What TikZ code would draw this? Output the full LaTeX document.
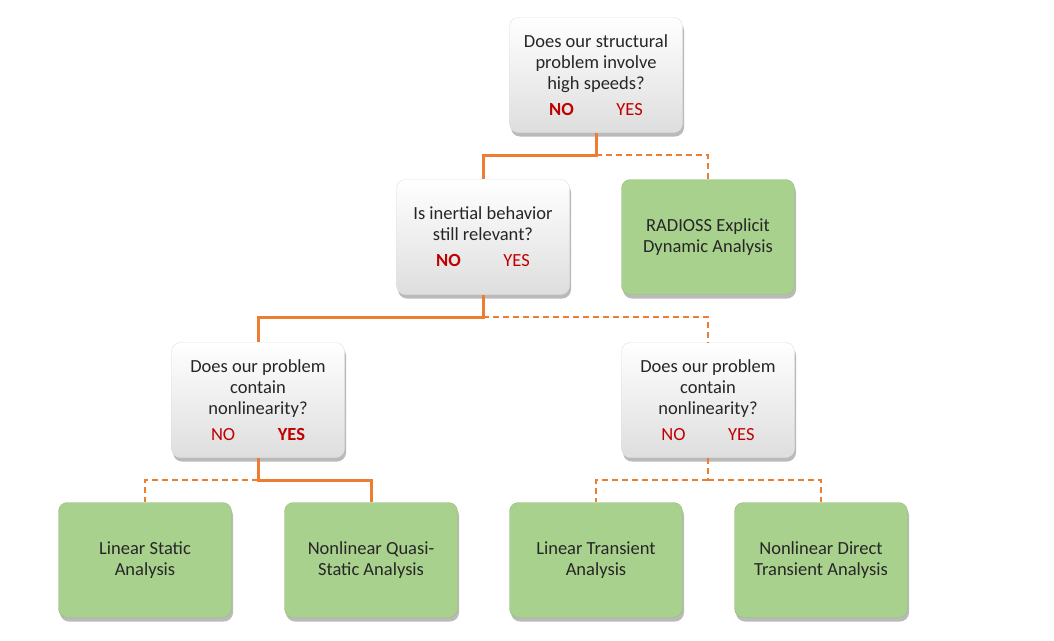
\documentclass[tikz,border=0pt]{standalone}
\usepackage{fontspec}
\setmainfont{Carlito}
\usetikzlibrary{shadows}
\definecolor{lineorange}{HTML}{ED7D31}
\definecolor{boxgreen}{HTML}{A9D18E}
\definecolor{ansred}{HTML}{C00000}
\tikzset{
  base/.style={rounded corners=9pt, minimum width=173pt, minimum height=115pt, align=center,
    font=\fontsize{18.5}{21}\selectfont, text=black!85,
    drop shadow={shadow xshift=1.5pt, shadow yshift=-4pt, opacity=0.45, fill=black!60}},
  qbox/.style={base, draw=black!12, top color=white, bottom color=black!13},
  abox/.style={base, draw=boxgreen!90!black, fill=boxgreen},
  yesline/.style={draw=lineorange, line width=3pt},
  noline/.style={draw=lineorange, line width=1.8pt, dash pattern=on 6pt off 4pt},
}
\newcommand{\ans}[1]{\textcolor{ansred}{#1}}
\begin{document}
\begin{tikzpicture}[x=1pt,y=-1pt]
\useasboundingbox (0,0) rectangle (1054,640);
\fill[white] (0,0) rectangle (1054,640);
\coordinate (j1) at (596,155);
\coordinate (j2) at (483,317);
\coordinate (j3) at (258,480);
\coordinate (j4) at (708,480);
\node[qbox] (q1) at (596,75) {Does our structural\\problem involve\\high speeds?\\[5pt]\ans{\textbf{NO}}\hspace{2.3em}\ans{YES}};
\node[qbox] (q2) at (483,237) {Is inertial behavior\\still relevant?\\[5pt]\ans{\textbf{NO}}\hspace{2.3em}\ans{YES}};
\node[abox] (rad) at (708,237) {RADIOSS Explicit\\Dynamic Analysis};
\node[qbox] (q3) at (258,400) {Does our problem\\contain\\nonlinearity?\\[5pt]\ans{NO}\hspace{2.3em}\ans{\textbf{YES}}};
\node[qbox] (q4) at (708,400) {Does our problem\\contain\\nonlinearity?\\[5pt]\ans{NO}\hspace{2.3em}\ans{YES}};
\node[abox] (ls) at (145,560) {Linear Static\\Analysis};
\node[abox] (nq) at (371,560) {Nonlinear Quasi-\\Static Analysis};
\node[abox] (lt) at (596,560) {Linear Transient\\Analysis};
\node[abox] (nd) at (821,560) {Nonlinear Direct\\Transient Analysis};
% dashed connectors
\draw[noline] (j1) -| (rad.north);
\draw[noline] (j2) -| (q4.north);
\draw[noline] (j3) -| (ls.north);
\draw[noline] (q4.south) -- (j4);
\draw[noline] (j4) -| (lt.north);
\draw[noline] (j4) -| (nd.north);
% solid connectors
\draw[yesline] (q1.south) -- (j1) -| (q2.north);
\draw[yesline] (q2.south) -- (j2) -| (q3.north);
\draw[yesline] (q3.south) -- (j3) -| (nq.north);
\end{tikzpicture}
\end{document}
